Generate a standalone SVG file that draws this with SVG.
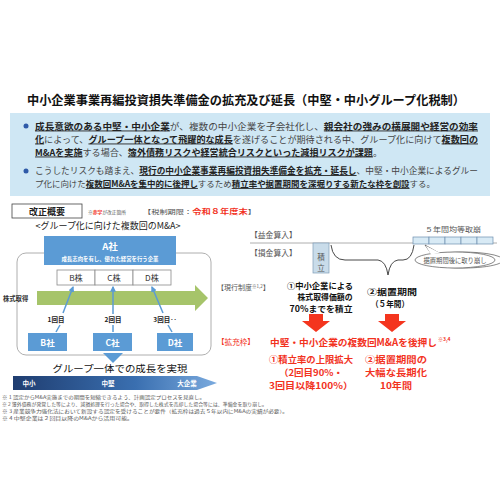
<svg xmlns="http://www.w3.org/2000/svg" width="500" height="500" viewBox="0 0 500 500">
<defs>
<style>
text{font-family:"Noto Sans CJK JP","Noto Sans",sans-serif;}
.b{font-weight:bold;}
.u{font-weight:bold;text-decoration:underline;fill:#222;}
.n{fill:#444;}
.red{fill:#f2321e;}
.wh{fill:#fff;font-weight:bold;}
.gy{fill:#555;}
.conn{stroke:#5b9bd5;stroke-width:1.5;fill:none;}
.arr{marker-end:url(#ah);}
.stock{fill:#fff;stroke:#8a8a8a;stroke-width:0.8;}
.co{fill:#5b9bd5;}
.sb{fill:#d8eaf5;stroke:#6d8fb0;stroke-width:0.7;}
.cur{font-size:8.2px;font-weight:bold;fill:#111;}
.ext{font-size:8.9px;font-weight:bold;fill:#f2321e;}
</style>
<marker id="ah" viewBox="0 0 10 10" refX="8" refY="5" markerWidth="4" markerHeight="4" orient="auto"><path d="M0,0L10,5L0,10z" fill="#5b9bd5"/></marker>
<linearGradient id="grad" x1="0" y1="0" x2="1" y2="0"><stop offset="0" stop-color="#1f3d70"/><stop offset="0.6" stop-color="#3a6fb0"/><stop offset="1" stop-color="#7aaade"/></linearGradient>
</defs>
<rect width="500" height="500" fill="#fff"/>

<g id="title"><text x="246" y="105" text-anchor="middle" font-size="12.5" class="b" fill="#111" textLength="438" lengthAdjust="spacingAndGlyphs">中小企業事業再編投資損失準備金の拡充及び延長（中堅・中小グループ化税制）</text></g>

<g id="summary">
<rect x="10" y="113" width="480" height="83" fill="#cfe7f4"/>
<circle cx="26" cy="126" r="2.5" fill="#2e5aa8"/>
<circle cx="26" cy="171" r="2.5" fill="#2e5aa8"/>
<text x="35" y="129.5" font-size="8.9" textLength="443" lengthAdjust="spacingAndGlyphs"><tspan class="u">成長意欲のある中堅・中小企業</tspan><tspan class="n">が、複数の中小企業を子会社化し、</tspan><tspan class="u">親会社の強みの横展開や経営の効率</tspan></text>
<text x="35" y="142.5" font-size="8.9" textLength="443" lengthAdjust="spacingAndGlyphs"><tspan class="u">化</tspan><tspan class="n">によって、</tspan><tspan class="u">グループ一体となって飛躍的な成長</tspan><tspan class="n">を遂げることが期待される中、グループ化に向けて</tspan><tspan class="u">複数回の</tspan></text>
<text x="35" y="155.5" font-size="8.9" textLength="347" lengthAdjust="spacingAndGlyphs"><tspan class="u">M&amp;Aを実施</tspan><tspan class="n">する場合、</tspan><tspan class="u">簿外債務リスクや経営統合リスクといった減損リスクが課題</tspan><tspan class="n">。</tspan></text>
<text x="35" y="174" font-size="8.9" textLength="443" lengthAdjust="spacingAndGlyphs"><tspan class="n">こうしたリスクも踏まえ、</tspan><tspan class="u">現行の中小企業事業再編投資損失準備金を拡充・延長し</tspan><tspan class="n">、中堅・中小企業によるグルー</tspan></text>
<text x="35" y="187" font-size="8.4" textLength="400" lengthAdjust="spacingAndGlyphs"><tspan class="n">プ化に向けた</tspan><tspan class="u">複数回M&amp;Aを集中的に後押し</tspan><tspan class="n">するため</tspan><tspan class="u">積立率や据置期間を深堀りする新たな枠を創設</tspan><tspan class="n">する。</tspan></text>
</g>

<g id="kaisei">
<rect x="12" y="204" width="70" height="14" fill="#fff" stroke="#444" stroke-width="0.8"/>
<text x="47" y="214.5" text-anchor="middle" font-size="9" class="b" fill="#222">改正概要</text>
<text x="88" y="213.5" font-size="4.8" fill="#555" textLength="38" lengthAdjust="spacingAndGlyphs">※<tspan class="red b">赤字</tspan>が改正箇所</text>
<text x="143" y="213.5" font-size="6.2" fill="#555" textLength="113" lengthAdjust="spacingAndGlyphs">【税制期限：<tspan class="red b" font-size="7">令和８年度末</tspan>】</text>
</g>

<g id="left-title"><text x="108" y="229" text-anchor="middle" font-size="9.2" fill="#222" textLength="145" lengthAdjust="spacingAndGlyphs">&lt;グループ化に向けた複数回のM&amp;A&gt;</text></g>

<g id="container"><rect x="17" y="253" width="194" height="102" rx="9" fill="#fff" stroke="#9a9a9a" stroke-width="0.8"/></g>

<g id="A">
<rect x="44" y="236" width="132" height="29" class="co"/>
<text x="110" y="250" text-anchor="middle" font-size="9.5" class="wh">A社</text>
<text x="110" y="260.5" text-anchor="middle" font-size="5.4" class="wh">成長志向を有し、優れた経営を行う企業</text>
</g>

<g id="stocks">
<rect x="57" y="270" width="38" height="15" class="stock"/><text x="76" y="280.5" text-anchor="middle" font-size="8.2" fill="#333">B株</text>
<rect x="95" y="270" width="38" height="15" class="stock"/><text x="114" y="280.5" text-anchor="middle" font-size="8.2" fill="#333">C株</text>
<rect x="133" y="270" width="38" height="15" class="stock"/><text x="152" y="280.5" text-anchor="middle" font-size="8.2" fill="#333">D株</text>
</g>

<g id="acquire">
<polygon points="37,291 195,291 195,285 208,298 195,311 195,305 37,305" fill="#a6c46a"/>
<text x="3" y="301" font-size="6.3" class="b" fill="#333">株式取得</text>
</g>

<g id="connectors">
<line x1="56" y1="332" x2="60" y2="325" class="conn"/>
<line x1="63" y1="313" x2="73" y2="287" class="conn arr"/>
<line x1="113" y1="332" x2="113" y2="325" class="conn"/>
<line x1="113" y1="314" x2="113" y2="287" class="conn arr"/>
<line x1="172" y1="332" x2="168" y2="325" class="conn"/>
<line x1="163" y1="313" x2="152" y2="287" class="conn arr"/>
</g>

<g id="rounds">
<text x="56" y="322" text-anchor="middle" font-size="6.5" class="b" fill="#222">1回目</text>
<text x="113" y="322" text-anchor="middle" font-size="6.5" class="b" fill="#222">2回目</text>
<text x="165" y="322" text-anchor="middle" font-size="6.5" class="b" fill="#222">3回目‥</text>
</g>

<g id="companies">
<rect x="28" y="333" width="39" height="18" class="co"/><text x="47.5" y="345.5" text-anchor="middle" font-size="8.5" class="wh">B社</text>
<rect x="93" y="333" width="39" height="18" class="co"/><text x="112.5" y="345.5" text-anchor="middle" font-size="8.5" class="wh">C社</text>
<rect x="157" y="333" width="36" height="18" class="co"/><text x="175" y="345.5" text-anchor="middle" font-size="8.5" class="wh">D社</text>
</g>

<g id="growth">
<polygon points="103,353 123,353 113,363" fill="#5b9bd5"/>
<text x="120" y="372" text-anchor="middle" font-size="9.6" fill="#111" textLength="135" lengthAdjust="spacingAndGlyphs">グループ一体での成長を実現</text>
<polygon points="13,376 197,376 217,383 197,390 13,390" fill="url(#grad)"/>
<text x="29" y="386" text-anchor="middle" font-size="6.5" class="wh">中小</text>
<text x="108" y="386" text-anchor="middle" font-size="6.5" class="wh">中堅</text>
<text x="187" y="386" text-anchor="middle" font-size="6.5" class="wh">大企業</text>
</g>

<g id="notes" font-size="4.8" fill="#555">
<text x="2" y="398.5" textLength="203" lengthAdjust="spacingAndGlyphs">※ 1 認定からM&amp;A実施までの期間を短縮できるよう、計画認定プロセスを見直し。</text>
<text x="2" y="405.5" textLength="265" lengthAdjust="spacingAndGlyphs">※ 2 簿外債務が発覚した等により、減損処理を行った場合や、取得した株式を売却した場合等には、準備金を取り崩し。</text>
<text x="2" y="412.5" textLength="286" lengthAdjust="spacingAndGlyphs">※ 3 産業競争力強化法において新設する認定を受けることが要件（拡充枠は過去５年以内にM&amp;Aの実績が必要）。</text>
<text x="2" y="419.5" textLength="131" lengthAdjust="spacingAndGlyphs">※ 4 中堅企業は２回目以降のM&amp;Aから活用可能。</text>
</g>

<g id="timeline">
<text x="250" y="238" font-size="7.8" class="gy">【益金算入】</text>
<text x="250" y="256" font-size="7.8" class="gy">【損金算入】</text>
<line x1="250" y1="243" x2="497" y2="243" stroke="#999" stroke-width="0.8"/>
<text x="425" y="231.5" font-size="6.3" class="gy" textLength="56" lengthAdjust="spacingAndGlyphs">５年間均等取崩</text>
<rect x="413" y="237" width="16" height="7" class="sb"/>
<rect x="429" y="237" width="16" height="7" class="sb"/>
<rect x="445" y="237" width="16" height="7" class="sb"/>
<rect x="461" y="237" width="16" height="7" class="sb"/>
<rect x="477" y="237" width="16" height="7" class="sb"/>
<rect x="313" y="243" width="16" height="30" fill="#c9dcea" stroke="#7f9db8" stroke-width="0.7"/>
<text x="321" y="260" text-anchor="middle" font-size="7.6" class="gy">積</text>
<text x="321" y="270.5" text-anchor="middle" font-size="7.6" class="gy">立</text>
<path d="M331,245 Q333,260 345,260 L378,260 Q386,261 388,275 Q390,261 398,260 L403,260 Q412,260 414,245" fill="none" stroke="#333" stroke-width="0.9"/>
<path d="M425,245 L432,255 A40,8 0 1 0 440,253.5 Z" fill="#fff" stroke="#555" stroke-width="0.7"/>
<ellipse cx="455" cy="260" rx="40" ry="8" fill="#fff" stroke="#555" stroke-width="0.7"/>
<path d="M426,246 L431,254.5 L440,253" fill="#fff" stroke="none"/>
<text x="455" y="262.5" text-anchor="middle" font-size="6.3" class="gy">据置期間後に取り崩し</text>
</g>

<g id="current">
<text x="217" y="290" font-size="7" class="gy">【現行制度<tspan font-size="4.5" dy="-2.5">※1,2</tspan><tspan dy="2.5">】</tspan></text>
<text x="320" y="288.5" text-anchor="middle" class="cur" textLength="66" lengthAdjust="spacingAndGlyphs">①中小企業による</text>
<text x="325" y="300" text-anchor="middle" class="cur" textLength="55" lengthAdjust="spacingAndGlyphs">株式取得価額の</text>
<text x="321" y="311.5" text-anchor="middle" class="cur" textLength="63" lengthAdjust="spacingAndGlyphs">70%までを積立</text>
<text x="392" y="295" text-anchor="middle" class="cur" textLength="50" lengthAdjust="spacingAndGlyphs">②据置期間</text>
<text x="390" y="307" text-anchor="middle" class="cur" textLength="38" lengthAdjust="spacingAndGlyphs">（５年間）</text>
</g>

<g id="red-arrows" fill="#f4351e">
<polygon points="309,314 323,314 323,321 330,321 316,332 302,321 309,321"/>
<polygon points="385,314 399,314 399,321 406,321 392,332 378,321 385,321"/>
</g>

<g id="expand">
<text x="217" y="345" font-size="7.6" class="red">【拡充枠】</text>
<text x="270" y="345.5" font-size="9.6" class="red b" textLength="167" lengthAdjust="spacingAndGlyphs">中堅・中小企業の複数回M&amp;Aを後押し</text>
<text x="438" y="341" font-size="5" class="red b">※3,4</text>
<text x="311" y="362.5" text-anchor="middle" class="ext" textLength="84" lengthAdjust="spacingAndGlyphs">①積立率の上限拡大</text>
<text x="311" y="375.5" text-anchor="middle" class="ext" textLength="64" lengthAdjust="spacingAndGlyphs">（2回目90%・</text>
<text x="311" y="388.5" text-anchor="middle" class="ext" textLength="84" lengthAdjust="spacingAndGlyphs">3回目以降100%）</text>
<text x="396" y="362.5" text-anchor="middle" class="ext" textLength="62" lengthAdjust="spacingAndGlyphs">②据置期間の</text>
<text x="396" y="375.5" text-anchor="middle" class="ext" textLength="62" lengthAdjust="spacingAndGlyphs">大幅な長期化</text>
<text x="396" y="388.5" text-anchor="middle" class="ext" textLength="32" lengthAdjust="spacingAndGlyphs">10年間</text>
</g>
</svg>
